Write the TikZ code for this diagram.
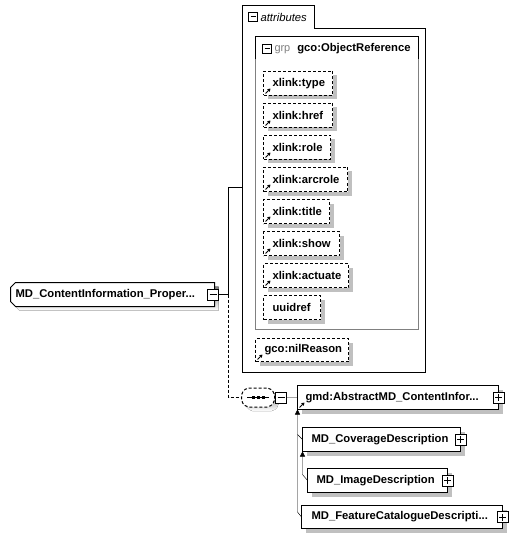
\documentclass[tikz,border=0pt]{standalone}
\usepackage{fontspec}
\setmainfont{Liberation Sans}
\usetikzlibrary{arrows.meta,shadows}
\definecolor{shade}{RGB}{192,192,192}
\definecolor{grpgray}{RGB}{128,128,128}
\pgfdeclarelayer{back}
\pgfdeclarelayer{bg}
\pgfsetlayers{back,bg,main}
\newcommand\boxtxt[3][9]{\makebox[#2bp][l]{\hspace{#1bp}#3}}
\newcommand\refmark[1]{\draw[refarr] ([xshift=2bp,yshift=2bp]#1.south west) -- ++(5,-5);}
\begin{document}
\begin{tikzpicture}[x=1bp,y=-1bp,line width=1bp,every node/.style={outer sep=0pt},
  lbl/.style={font=\bfseries\fontsize{11.3}{13}\selectfont, text=black},
  shad/.style={drop shadow={opacity=1,fill=shade,draw=none,shadow xshift=4bp,shadow yshift=-4bp}},
  elbox/.style={lbl,draw,fill=white,inner sep=0pt,outer sep=0pt,minimum height=24bp,anchor=north west,shad},
  attbox/.style={elbox,dash pattern=on 3bp off 2bp},
  dsh/.style={dash pattern=on 3bp off 2bp},
  pmbox/.style={draw,fill=white,minimum size=11bp,inner sep=0pt,outer sep=0pt,line width=1bp},
  minusbox/.style={pmbox,path picture={\draw[line width=1bp] ([xshift=2bp]path picture bounding box.west) -- ([xshift=-2bp]path picture bounding box.east);}},
  plusbox/.style={pmbox,path picture={\draw[line width=1bp] ([xshift=2bp]path picture bounding box.west) -- ([xshift=-2bp]path picture bounding box.east) ([yshift=2bp]path picture bounding box.south) -- ([yshift=-2bp]path picture bounding box.north);}},
  inh/.style={-{Triangle[length=5bp,width=5bp]}},
  refarr/.style={-{Triangle[length=3bp,width=3.5bp]},line width=1bp}
]
\begin{pgfonlayer}{back}
\fill[white] (0,0) rectangle (517,538);
\end{pgfonlayer}
\useasboundingbox (0,0) rectangle (517,538);

\begin{scope}[shift={(0.5,0.5)}]
% attributes container
\draw (242,5) -- (314,5) -- (314,28) -- (425,28) -- (425,372) -- (242,372) -- cycle;
\node[minusbox,minimum size=9bp] (tabmin) at (252.5,16.5) {};
\node[anchor=west,inner sep=0pt,font=\itshape\fontsize{11.3}{13}\selectfont] (tabtxt) at (260,16.5) {attributes};

% group box
\draw[grpgray] (255,36) rectangle (418,329);
\draw (255,59) -- (255,36) -- (418,36) -- (418,59);
\node[minusbox,minimum size=9bp] (grpmin) at (266.5,48.5) {};
\node[anchor=west,inner sep=0pt] (grptxt) at (274,48.5) {\textcolor{grpgray}{\fontsize{11}{13}\selectfont grp}\hspace{7bp}{\bfseries\fontsize{11.3}{13}\selectfont gco:ObjectReference}};

% attributes
\node[attbox] (type) at (263,71) {\boxtxt{69}{xlink:type}}; \refmark{type}
\node[attbox] (href) at (263,103) {\boxtxt{69}{xlink:href}}; \refmark{href}
\node[attbox] (role) at (263,135) {\boxtxt{67}{xlink:role}}; \refmark{role}
\node[attbox] (arcrole) at (263,167) {\boxtxt{84}{xlink:arcrole}}; \refmark{arcrole}
\node[attbox] (title) at (263,199) {\boxtxt{66}{xlink:title}}; \refmark{title}
\node[attbox] (show) at (263,231) {\boxtxt{76}{xlink:show}}; \refmark{show}
\node[attbox] (actuate) at (263,263) {\boxtxt{85}{xlink:actuate}}; \refmark{actuate}
\node[attbox] (uuidref) at (263,295) {\boxtxt{57}{uuidref}};
\node[attbox,minimum height=23bp] (nil) at (255,338) {\boxtxt{93}{gco:nilReason}}; \refmark{nil}

% main element
\node[lbl,inner sep=0pt,minimum height=24bp,anchor=north west] (main) at (10,282) {\boxtxt[5]{204}{MD\_ContentInformation\_Proper...}};
\begin{pgfonlayer}{bg}
  \fill[shade,transform canvas={xshift=4bp,yshift=-4bp}] ([xshift=5bp]main.north west) -- (main.north east) -- (main.south east) -- ([xshift=5bp]main.south west) -- ([yshift=5bp]main.south west) -- ([yshift=-5bp]main.north west) -- cycle;
  \draw[line width=1bp,fill=white] ([xshift=5bp]main.north west) -- (main.north east) -- (main.south east) -- ([xshift=5bp]main.south west) -- ([yshift=5bp]main.south west) -- ([yshift=-5bp]main.north west) -- cycle;
\end{pgfonlayer}
\node[minusbox] (mainmin) at (212.5,294) {};

% sequence compositor
\node[inner sep=0pt,minimum width=33bp,minimum height=19bp] (seq) at (257.5,397) {};
\begin{pgfonlayer}{bg}
  \fill[shade,rounded corners=2bp,transform canvas={xshift=4bp,yshift=-4bp}] ([xshift=5bp]seq.north west) -- ([xshift=-5bp]seq.north east) -- ([yshift=-5bp]seq.north east) -- ([yshift=5bp]seq.south east) -- ([xshift=-5bp]seq.south east) -- ([xshift=5bp]seq.south west) -- ([yshift=5bp]seq.south west) -- ([yshift=-5bp]seq.north west) -- cycle;
  \draw[line width=1bp,dsh,fill=white,rounded corners=2bp] ([xshift=5bp]seq.north west) -- ([xshift=-5bp]seq.north east) -- ([yshift=-5bp]seq.north east) -- ([yshift=5bp]seq.south east) -- ([xshift=-5bp]seq.south east) -- ([xshift=5bp]seq.south west) -- ([yshift=5bp]seq.south west) -- ([yshift=-5bp]seq.north west) -- cycle;
\end{pgfonlayer}
\draw ([xshift=-11bp]seq.center) -- ([xshift=11bp]seq.center);
\foreach \dx in {-5,0,5} \fill ([xshift=\dx bp-1.5bp,yshift=-1.5bp]seq.center) rectangle ([xshift=\dx bp+1.5bp,yshift=1.5bp]seq.center);
\node[minusbox] (seqmin) at (280.5,397) {};

% content elements
\node[elbox] (gmd) at (297,385) {\boxtxt[8]{201}{gmd:AbstractMD\_ContentInfor...}}; \refmark{gmd}
\node[plusbox] (gmdplus) at (gmd.east) {};
\node[elbox] (cov) at (302,427) {\boxtxt{158}{MD\_CoverageDescription}};
\node[plusbox] (covplus) at (cov.east) {};
\node[elbox] (img) at (307,468) {\boxtxt{140}{MD\_ImageDescription}};
\node[plusbox] (imgplus) at (img.east) {};
\node[elbox,minimum height=23bp] (fc) at (301,505) {\boxtxt[10]{201}{MD\_FeatureCatalogueDescripti...}};
\node[plusbox] (fcplus) at (fc.east) {};

% connectors
\coordinate (j) at (228,294);
\coordinate (attrs) at (242,187);
\draw (mainmin.east) -- (j) |- (attrs);
\draw[dsh] (j) |- (seq.west);
\draw (seqmin.east) -- (gmd.west);
\draw[inh] (fc.west) -- ++(-4,-5) -- (gmd.south west);
\draw (cov.west) -- ++(-5,-5);
\draw[inh] (img.west) -- ++(-5,-6) -- (cov.south west);
\end{scope}
\end{tikzpicture}
\end{document}
